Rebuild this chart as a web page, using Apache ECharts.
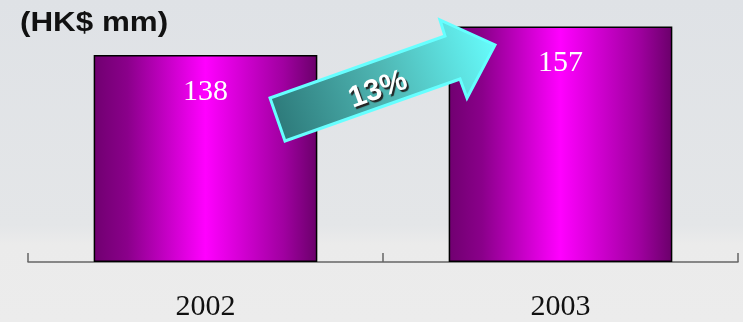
<!DOCTYPE html>
<html><head><meta charset="utf-8">
<script src="https://cdn.jsdelivr.net/npm/echarts@6/dist/echarts.min.js"></script>
<style>html,body{margin:0;padding:0;}#c{width:743px;height:322px;background:linear-gradient(#dfe2e6,#e4e6e8 70%,#ebebeb 76%,#ececec);}</style>
</head><body><div id="c"></div>
<script>
const categories = ['2002', '2003'];
const values = [138, 157];
const unitLabel = '(HK$ mm)';
const growthLabel = '13%';

const chart = echarts.init(document.getElementById('c'));
const barGrad = new echarts.graphic.LinearGradient(0, 0, 1, 0, [
  {offset: 0, color: '#700070'},
  {offset: 0.15, color: '#8a008a'},
  {offset: 0.5, color: '#ff00ff'},
  {offset: 0.85, color: '#a000a0'},
  {offset: 1, color: '#6a006a'}
]);
const arrowGrad = new echarts.graphic.LinearGradient(278, 120, 495, 45, [
  {offset: 0, color: '#2e7b7b'},
  {offset: 0.5, color: '#4fb7b4'},
  {offset: 1, color: '#66fbfb'}
], true);
chart.setOption({
  animation: false,
  grid: {left: 28, right: 5, top: 22, bottom: 60},
  xAxis: {
    type: 'category', data: categories,
    axisLine: {show: true, lineStyle: {color: '#666', width: 1.5}},
    axisTick: {show: true, inside: true, length: 9, alignWithLabel: false, lineStyle: {color: '#666', width: 1.5}},
    axisLabel: {fontFamily: 'Liberation Serif', fontSize: 30, color: '#111', margin: 30}
  },
  yAxis: {type: 'value', min: 0, max: 160, show: false, splitLine: {show: false}},
  series: [{
    type: 'bar', data: values, barWidth: '63%',
    itemStyle: {color: barGrad, borderColor: '#000', borderWidth: 1.5},
    label: {show: true, position: 'insideTop', distance: 22, color: '#fff',
      fontFamily: 'Liberation Serif', fontSize: 30}
  }],
  graphic: [
    {type: 'text', x: 20, y: 23, scaleX: 1.12,
      style: {text: unitLabel, font: 'bold 28px "Liberation Sans", Arial', fill: '#111', verticalAlign: 'middle'}},
    {type: 'polygon', z: 100,
      shape: {points: [[270,98],[445,36],[440,20],[495,45],[467,98],[460,79],[285,141]]},
      style: {fill: arrowGrad, stroke: '#66ffff', lineWidth: 3, lineJoin: 'miter'}},
    {type: 'text', z: 101, x: 378, y: 90, rotation: 0.35,
      style: {text: growthLabel, font: 'bold 30px "Liberation Sans", Arial', fill: '#fff',
        align: 'center', verticalAlign: 'middle',
        textShadowColor: '#222', textShadowOffsetX: 2, textShadowOffsetY: 2, textShadowBlur: 1}}
  ]
});
</script></body></html>
